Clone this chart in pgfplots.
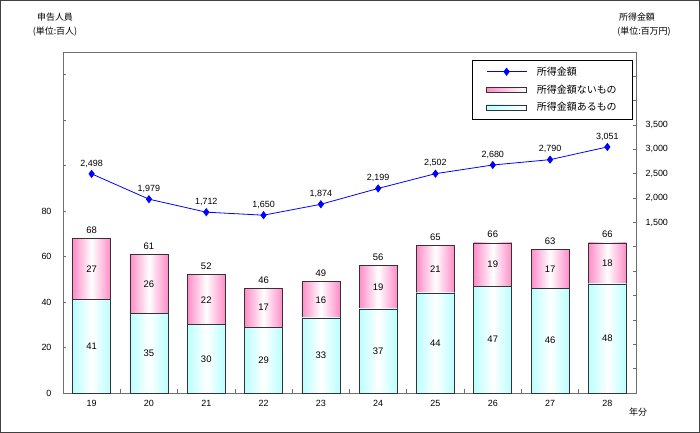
\documentclass[border=0pt]{standalone}
\usepackage{pgfplots}
\pgfplotsset{compat=1.18}
\usepackage{fontspec}
\setmainfont{Liberation Sans}
\newfontfamily\jp{Noto Sans CJK JP}
\definecolor{barpink}{RGB}{255,140,200}
\definecolor{barcyan}{RGB}{185,255,255}
\definecolor{axgray}{RGB}{110,110,110}
\pgfplotsset{
  /pgf/number format/assume math mode=true,
  /pgf/number format/1000 sep={,},
  lineleg/.style={legend image code/.code={\draw[mark repeat=2, mark phase=2, ##1] plot coordinates {(0bp,0bp) (20bp,0bp) (40bp,0bp)};}},
  rectleg/.style={legend image code/.code={\draw[##1] (0bp,-2.5bp) rectangle (40bp,2.5bp);}},
  pinkbar/.style={ybar, bar width=38bp, bar shift=0pt, draw=black!80, line width=0.7bp,
    left color=barpink, right color=barpink, middle color=white},
  cyanbar/.style={ybar, bar width=38bp, bar shift=0pt, draw=black!80, line width=0.7bp,
    left color=barcyan, right color=barcyan, middle color=white},
}
\begin{document}
\begin{tikzpicture}[x=1bp,y=1bp]
\useasboundingbox (0,0) rectangle (700,433);
\draw[line width=1bp, black!75] (0.5,0.5) rectangle (699.5,432.5);
% titles
\node[font=\jp\fontsize{9}{10}\selectfont] at (55,416) {申告人員};
\node[font=\jp\fontsize{9}{10}\selectfont] at (55,401) {(単位:百人)};
\node[font=\jp\fontsize{9}{10}\selectfont] at (637,416) {所得金額};
\node[font=\jp\fontsize{9}{10}\selectfont] at (644,401) {(単位:百万円)};
\node[font=\jp\fontsize{9}{10}\selectfont] at (638,21) {年分};
\begin{axis}[
  at={(63bp,40bp)}, anchor=south west, scale only axis,
  width=573bp, height=341bp,
  xmin=-0.5, xmax=9.5, ymin=0, ymax=150,
  axis line style={axgray, line width=0.9bp},
  tick style={axgray, line width=0.8bp},
  tick align=inside,
  xtick pos=bottom, ytick pos=left,
  xtick={0,1,2,3,4,5,6,7,8,9},
  xticklabels={19,20,21,22,23,24,25,26,27,28},
  major x tick style={draw=none},
  minor xtick={0.5,1.5,2.5,3.5,4.5,5.5,6.5,7.5,8.5},
  minor tick length=4bp,
  major tick length=3bp,
  ytick={0,20,40,60,80,100,120,140},
  yticklabels={0,20,40,60,80,,,},
  ticklabel style={font=\fontsize{9}{10}\selectfont},
  yticklabel style={xshift=-8bp},
  xticklabel style={yshift=-4bp},
  clip=false,
]
% pink bars (total height), one plot per bar so each has its own shading
\addplot[pinkbar] coordinates {(0,68)};
\addplot[pinkbar] coordinates {(1,61)};
\addplot[pinkbar] coordinates {(2,52)};
\addplot[pinkbar] coordinates {(3,46)};
\addplot[pinkbar] coordinates {(4,49)};
\addplot[pinkbar] coordinates {(5,56)};
\addplot[pinkbar] coordinates {(6,65)};
\addplot[pinkbar] coordinates {(7,66)};
\addplot[pinkbar] coordinates {(8,63)};
\addplot[pinkbar] coordinates {(9,66)};
% cyan bars
\addplot[cyanbar] coordinates {(0,41)};
\addplot[cyanbar] coordinates {(1,35)};
\addplot[cyanbar] coordinates {(2,30)};
\addplot[cyanbar] coordinates {(3,29)};
\addplot[cyanbar] coordinates {(4,33)};
\addplot[cyanbar] coordinates {(5,37)};
\addplot[cyanbar] coordinates {(6,44)};
\addplot[cyanbar] coordinates {(7,47)};
\addplot[cyanbar] coordinates {(8,46)};
\addplot[cyanbar] coordinates {(9,48)};
% totals
\addplot[draw=none, mark=none, nodes near coords, point meta=y,
  every node near coord/.append style={text=black, font=\fontsize{9.5}{10}\selectfont, anchor=south, yshift=1.5bp}]
  coordinates {(0,68) (1,61) (2,52) (3,46) (4,49) (5,56) (6,65) (7,66) (8,63) (9,66)};
% cyan segment labels
\addplot[draw=none, mark=none, nodes near coords, point meta=explicit,
  every node near coord/.append style={text=black, font=\fontsize{9.5}{10}\selectfont, anchor=center}]
  coordinates {(0,20.5) [41] (1,17.5) [35] (2,15) [30] (3,14.5) [29] (4,16.5) [33]
               (5,18.5) [37] (6,22) [44] (7,23.5) [47] (8,23) [46] (9,24) [48]};
% pink segment labels
\addplot[draw=none, mark=none, nodes near coords, point meta=explicit,
  every node near coord/.append style={text=black, font=\fontsize{9.5}{10}\selectfont, anchor=center}]
  coordinates {(0,54.5) [27] (1,48) [26] (2,41) [22] (3,37.5) [17] (4,41) [16]
               (5,46.5) [19] (6,54.5) [21] (7,56.5) [19] (8,54.5) [17] (9,57) [18]};
\end{axis}
\begin{axis}[
  at={(63bp,40bp)}, anchor=south west, scale only axis,
  width=573bp, height=341bp,
  xmin=-0.5, xmax=9.5, ymin=-2000, ymax=5000,
  hide x axis,
  axis line style={axgray, line width=0.9bp},
  tick style={axgray, line width=0.8bp},
  tick align=inside,
  ytick pos=right, yticklabel pos=right,
  major tick length=3bp,
  ytick={-2000,-1500,-1000,-500,0,500,1000,1500,2000,2500,3000,3500,4000,4500},
  yticklabels={,,,,,,,{1,500},{2,000},{2,500},{3,000},{3,500},,},
  ticklabel style={font=\fontsize{9}{10}\selectfont},
  yticklabel style={xshift=6bp},
  clip=false,
  legend style={at={(0.9948,0.9765)}, anchor=north east, draw=black, line width=0.7bp,
    font=\jp\fontsize{10}{11}\selectfont, inner xsep=14bp, inner ysep=4.5bp,
    row sep=4bp, cells={anchor=west},
    /tikz/every odd column/.append style={column sep=8bp}},
]
\addplot[blue, line width=0.8bp, mark=diamond*, mark size=3.5bp, mark options={fill=blue, solid},
  nodes near coords, point meta=y,
  every node near coord/.append style={text=black, font=\fontsize{9}{10}\selectfont, anchor=south, yshift=3bp},
  lineleg]
  coordinates {(0,2498) (1,1979) (2,1712) (3,1650) (4,1874) (5,2199) (6,2502) (7,2680) (8,2790) (9,3051)};
\addlegendentry{所得金額}
\addlegendimage{draw=black!80, line width=0.7bp, left color=barpink, right color=white, rectleg}
\addlegendentry{所得金額ないもの}
\addlegendimage{draw=black!80, line width=0.7bp, left color=barcyan, right color=white, rectleg}
\addlegendentry{所得金額あるもの}
\end{axis}
\end{tikzpicture}
\end{document}
